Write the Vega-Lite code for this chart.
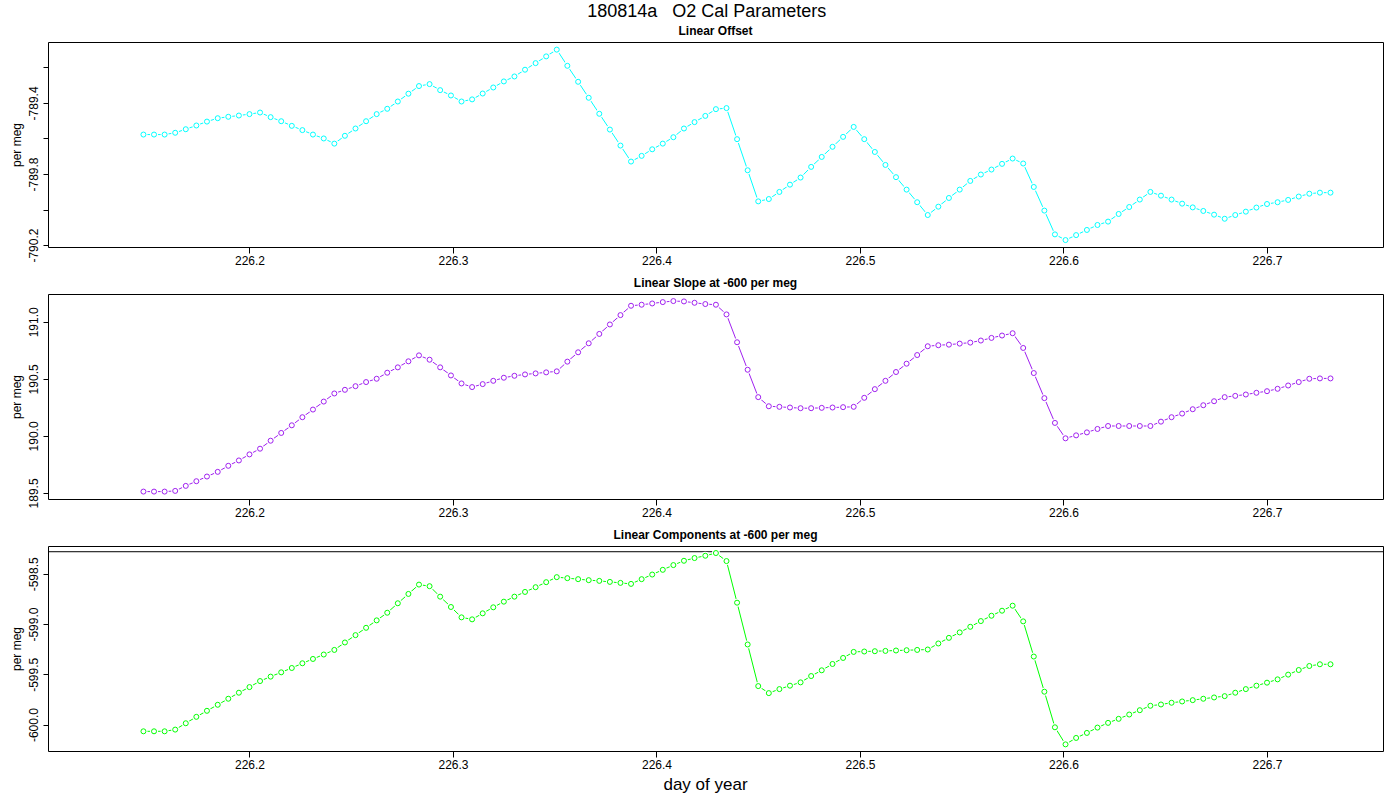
{
  "$schema": "https://vega.github.io/schema/vega-lite/v6.json",
  "background": "white",
  "padding": {"left": 9, "top": 2, "right": 18, "bottom": 5},
  "title": {
    "text": "180814a\u00a0\u00a0\u00a0O2 Cal Parameters",
    "fontSize": 18,
    "fontWeight": "normal",
    "anchor": "middle",
    "offset": 4,
    "dx": 10
  },
  "data": {
    "values": [
      {"x": 226.1479, "offset": -789.578, "slope": 189.512, "comp": -600.067},
      {"x": 226.1531, "offset": -789.578, "slope": 189.512, "comp": -600.067},
      {"x": 226.1583, "offset": -789.578, "slope": 189.512, "comp": -600.067},
      {"x": 226.1635, "offset": -789.568, "slope": 189.518, "comp": -600.050},
      {"x": 226.1687, "offset": -789.548, "slope": 189.562, "comp": -599.987},
      {"x": 226.1739, "offset": -789.527, "slope": 189.603, "comp": -599.923},
      {"x": 226.1791, "offset": -789.505, "slope": 189.644, "comp": -599.863},
      {"x": 226.1844, "offset": -789.486, "slope": 189.685, "comp": -599.803},
      {"x": 226.1896, "offset": -789.478, "slope": 189.738, "comp": -599.743},
      {"x": 226.1948, "offset": -789.471, "slope": 189.785, "comp": -599.683},
      {"x": 226.2000, "offset": -789.463, "slope": 189.838, "comp": -599.627},
      {"x": 226.2052, "offset": -789.454, "slope": 189.888, "comp": -599.567},
      {"x": 226.2104, "offset": -789.480, "slope": 189.958, "comp": -599.523},
      {"x": 226.2156, "offset": -789.503, "slope": 190.026, "comp": -599.480},
      {"x": 226.2208, "offset": -789.529, "slope": 190.093, "comp": -599.437},
      {"x": 226.2260, "offset": -789.553, "slope": 190.164, "comp": -599.390},
      {"x": 226.2312, "offset": -789.578, "slope": 190.231, "comp": -599.347},
      {"x": 226.2365, "offset": -789.600, "slope": 190.301, "comp": -599.303},
      {"x": 226.2417, "offset": -789.629, "slope": 190.372, "comp": -599.257},
      {"x": 226.2469, "offset": -789.585, "slope": 190.404, "comp": -599.183},
      {"x": 226.2521, "offset": -789.544, "slope": 190.436, "comp": -599.110},
      {"x": 226.2573, "offset": -789.503, "slope": 190.472, "comp": -599.037},
      {"x": 226.2625, "offset": -789.463, "slope": 190.501, "comp": -598.963},
      {"x": 226.2677, "offset": -789.433, "slope": 190.554, "comp": -598.887},
      {"x": 226.2729, "offset": -789.392, "slope": 190.601, "comp": -598.793},
      {"x": 226.2781, "offset": -789.348, "slope": 190.654, "comp": -598.700},
      {"x": 226.2833, "offset": -789.305, "slope": 190.706, "comp": -598.607},
      {"x": 226.2885, "offset": -789.294, "slope": 190.668, "comp": -598.623},
      {"x": 226.2937, "offset": -789.328, "slope": 190.601, "comp": -598.727},
      {"x": 226.2990, "offset": -789.358, "slope": 190.530, "comp": -598.830},
      {"x": 226.3042, "offset": -789.392, "slope": 190.460, "comp": -598.933},
      {"x": 226.3094, "offset": -789.380, "slope": 190.428, "comp": -598.953},
      {"x": 226.3146, "offset": -789.347, "slope": 190.454, "comp": -598.893},
      {"x": 226.3198, "offset": -789.313, "slope": 190.483, "comp": -598.833},
      {"x": 226.3250, "offset": -789.279, "slope": 190.510, "comp": -598.777},
      {"x": 226.3302, "offset": -789.251, "slope": 190.527, "comp": -598.727},
      {"x": 226.3354, "offset": -789.213, "slope": 190.539, "comp": -598.680},
      {"x": 226.3406, "offset": -789.176, "slope": 190.548, "comp": -598.633},
      {"x": 226.3458, "offset": -789.138, "slope": 190.557, "comp": -598.583},
      {"x": 226.3510, "offset": -789.100, "slope": 190.566, "comp": -598.533},
      {"x": 226.3562, "offset": -789.191, "slope": 190.651, "comp": -598.543},
      {"x": 226.3615, "offset": -789.281, "slope": 190.733, "comp": -598.553},
      {"x": 226.3667, "offset": -789.371, "slope": 190.812, "comp": -598.563},
      {"x": 226.3719, "offset": -789.461, "slope": 190.894, "comp": -598.570},
      {"x": 226.3771, "offset": -789.550, "slope": 190.977, "comp": -598.580},
      {"x": 226.3823, "offset": -789.640, "slope": 191.059, "comp": -598.590},
      {"x": 226.3875, "offset": -789.730, "slope": 191.141, "comp": -598.600},
      {"x": 226.3927, "offset": -789.698, "slope": 191.150, "comp": -598.553},
      {"x": 226.3979, "offset": -789.661, "slope": 191.161, "comp": -598.507},
      {"x": 226.4031, "offset": -789.629, "slope": 191.173, "comp": -598.460},
      {"x": 226.4083, "offset": -789.593, "slope": 191.182, "comp": -598.413},
      {"x": 226.4135, "offset": -789.544, "slope": 191.179, "comp": -598.370},
      {"x": 226.4187, "offset": -789.508, "slope": 191.167, "comp": -598.343},
      {"x": 226.4240, "offset": -789.473, "slope": 191.156, "comp": -598.320},
      {"x": 226.4292, "offset": -789.435, "slope": 191.150, "comp": -598.293},
      {"x": 226.4344, "offset": -789.429, "slope": 191.065, "comp": -598.373},
      {"x": 226.4396, "offset": -789.604, "slope": 190.821, "comp": -598.787},
      {"x": 226.4448, "offset": -789.779, "slope": 190.580, "comp": -599.203},
      {"x": 226.4500, "offset": -789.954, "slope": 190.340, "comp": -599.617},
      {"x": 226.4552, "offset": -789.941, "slope": 190.260, "comp": -599.687},
      {"x": 226.4604, "offset": -789.901, "slope": 190.255, "comp": -599.647},
      {"x": 226.4656, "offset": -789.860, "slope": 190.249, "comp": -599.613},
      {"x": 226.4708, "offset": -789.820, "slope": 190.243, "comp": -599.580},
      {"x": 226.4760, "offset": -789.760, "slope": 190.243, "comp": -599.517},
      {"x": 226.4812, "offset": -789.704, "slope": 190.246, "comp": -599.460},
      {"x": 226.4865, "offset": -789.647, "slope": 190.249, "comp": -599.397},
      {"x": 226.4917, "offset": -789.591, "slope": 190.252, "comp": -599.337},
      {"x": 226.4969, "offset": -789.535, "slope": 190.255, "comp": -599.277},
      {"x": 226.5021, "offset": -789.604, "slope": 190.334, "comp": -599.273},
      {"x": 226.5073, "offset": -789.676, "slope": 190.410, "comp": -599.270},
      {"x": 226.5125, "offset": -789.749, "slope": 190.483, "comp": -599.267},
      {"x": 226.5177, "offset": -789.818, "slope": 190.560, "comp": -599.263},
      {"x": 226.5229, "offset": -789.888, "slope": 190.633, "comp": -599.260},
      {"x": 226.5281, "offset": -789.959, "slope": 190.709, "comp": -599.257},
      {"x": 226.5333, "offset": -790.031, "slope": 190.786, "comp": -599.253},
      {"x": 226.5385, "offset": -789.984, "slope": 190.795, "comp": -599.193},
      {"x": 226.5437, "offset": -789.935, "slope": 190.800, "comp": -599.137},
      {"x": 226.5490, "offset": -789.888, "slope": 190.809, "comp": -599.083},
      {"x": 226.5542, "offset": -789.839, "slope": 190.818, "comp": -599.027},
      {"x": 226.5594, "offset": -789.803, "slope": 190.836, "comp": -598.970},
      {"x": 226.5646, "offset": -789.775, "slope": 190.859, "comp": -598.917},
      {"x": 226.5698, "offset": -789.743, "slope": 190.880, "comp": -598.867},
      {"x": 226.5750, "offset": -789.713, "slope": 190.900, "comp": -598.817},
      {"x": 226.5802, "offset": -789.741, "slope": 190.771, "comp": -598.973},
      {"x": 226.5854, "offset": -789.873, "slope": 190.551, "comp": -599.323},
      {"x": 226.5906, "offset": -790.006, "slope": 190.331, "comp": -599.673},
      {"x": 226.5958, "offset": -790.140, "slope": 190.114, "comp": -600.027},
      {"x": 226.6010, "offset": -790.172, "slope": 189.979, "comp": -600.197},
      {"x": 226.6062, "offset": -790.144, "slope": 190.005, "comp": -600.133},
      {"x": 226.6115, "offset": -790.115, "slope": 190.031, "comp": -600.083},
      {"x": 226.6167, "offset": -790.087, "slope": 190.061, "comp": -600.030},
      {"x": 226.6219, "offset": -790.068, "slope": 190.087, "comp": -599.983},
      {"x": 226.6271, "offset": -790.025, "slope": 190.087, "comp": -599.943},
      {"x": 226.6323, "offset": -789.986, "slope": 190.087, "comp": -599.900},
      {"x": 226.6375, "offset": -789.944, "slope": 190.087, "comp": -599.857},
      {"x": 226.6427, "offset": -789.901, "slope": 190.087, "comp": -599.813},
      {"x": 226.6479, "offset": -789.922, "slope": 190.125, "comp": -599.800},
      {"x": 226.6531, "offset": -789.944, "slope": 190.164, "comp": -599.783},
      {"x": 226.6583, "offset": -789.967, "slope": 190.196, "comp": -599.770},
      {"x": 226.6635, "offset": -789.988, "slope": 190.234, "comp": -599.757},
      {"x": 226.6687, "offset": -790.008, "slope": 190.269, "comp": -599.743},
      {"x": 226.6740, "offset": -790.029, "slope": 190.304, "comp": -599.730},
      {"x": 226.6792, "offset": -790.052, "slope": 190.340, "comp": -599.717},
      {"x": 226.6844, "offset": -790.031, "slope": 190.351, "comp": -599.683},
      {"x": 226.6896, "offset": -790.012, "slope": 190.363, "comp": -599.647},
      {"x": 226.6948, "offset": -789.989, "slope": 190.378, "comp": -599.613},
      {"x": 226.7000, "offset": -789.969, "slope": 190.392, "comp": -599.583},
      {"x": 226.7052, "offset": -789.959, "slope": 190.413, "comp": -599.550},
      {"x": 226.7104, "offset": -789.946, "slope": 190.442, "comp": -599.503},
      {"x": 226.7156, "offset": -789.927, "slope": 190.472, "comp": -599.457},
      {"x": 226.7208, "offset": -789.911, "slope": 190.501, "comp": -599.417},
      {"x": 226.7260, "offset": -789.905, "slope": 190.504, "comp": -599.400},
      {"x": 226.7312, "offset": -789.905, "slope": 190.504, "comp": -599.400}
    ]
  },
  "spacing": 47,
  "bounds": "flush",
  "vconcat": [
    {
      "title": "Linear Offset",
      "width": 1335,
      "height": 205,
      "encoding": {
        "x": {
          "field": "x",
          "type": "quantitative",
          "scale": {"domain": [226.101, 226.757], "nice": false, "zero": false},
          "axis": {"values": [226.2, 226.3, 226.4, 226.5, 226.6, 226.7], "format": ".1f", "title": null}
        },
        "y": {
          "field": "offset",
          "type": "quantitative",
          "scale": {"domain": [-790.211, -789.057], "nice": false, "zero": false},
          "axis": {
            "values": [-790.2, -790.0, -789.8, -789.6, -789.4, -789.2],
            "labelExpr": "(datum.value < -789.3 && datum.value > -789.5) || (datum.value < -789.7 && datum.value > -789.9) || datum.value < -790.1 ? replace(format(datum.value, '.1f'), '\u2212', '-') : ''",
            "title": "per meg"
          }
        }
      },
      "layer": [
        {"mark": {"type": "line", "color": "#00FFFF", "strokeWidth": 1}},
        {"mark": {"type": "point", "filled": true, "color": "white", "opacity": 1, "size": 64}},
        {"mark": {"type": "point", "filled": false, "color": "#00FFFF", "opacity": 1, "size": 25, "strokeWidth": 1}}
      ]
    },
    {
      "title": "Linear Slope at -600 per meg",
      "width": 1335,
      "height": 205,
      "encoding": {
        "x": {
          "field": "x",
          "type": "quantitative",
          "scale": {"domain": [226.101, 226.757], "nice": false, "zero": false},
          "axis": {"values": [226.2, 226.3, 226.4, 226.5, 226.6, 226.7], "format": ".1f", "title": null}
        },
        "y": {
          "field": "slope",
          "type": "quantitative",
          "scale": {"domain": [189.447, 191.244], "nice": false, "zero": false},
          "axis": {"values": [189.5, 190.0, 190.5, 191.0], "format": ".1f", "title": "per meg"}
        }
      },
      "layer": [
        {"mark": {"type": "line", "color": "#A020F0", "strokeWidth": 1}},
        {"mark": {"type": "point", "filled": true, "color": "white", "opacity": 1, "size": 64}},
        {"mark": {"type": "point", "filled": false, "color": "#A020F0", "opacity": 1, "size": 25, "strokeWidth": 1}}
      ]
    },
    {
      "title": "Linear Components at -600 per meg",
      "width": 1335,
      "height": 205,
      "layer": [
        {
          "data": {"values": [{"level": -598.28}]},
          "mark": {"type": "rule", "color": "black", "strokeWidth": 1},
          "encoding": {"y": {"field": "level", "type": "quantitative"}}
        },
        {
          "mark": {"type": "line", "color": "#00FF00", "strokeWidth": 1},
          "encoding": {
            "x": {"field": "x", "type": "quantitative"},
            "y": {"field": "comp", "type": "quantitative"}
          }
        },
        {
          "mark": {"type": "point", "filled": true, "color": "white", "opacity": 1, "size": 64},
          "encoding": {
            "x": {"field": "x", "type": "quantitative"},
            "y": {"field": "comp", "type": "quantitative"}
          }
        },
        {
          "mark": {"type": "point", "filled": false, "color": "#00FF00", "opacity": 1, "size": 25, "strokeWidth": 1},
          "encoding": {
            "x": {
              "field": "x",
              "type": "quantitative",
              "scale": {"domain": [226.101, 226.757], "nice": false, "zero": false},
              "axis": {
                "values": [226.2, 226.3, 226.4, 226.5, 226.6, 226.7],
                "format": ".1f",
                "title": "day of year",
                "titleFontSize": 17,
                "titlePadding": 6,
                "titleX": 657
              }
            },
            "y": {
              "field": "comp",
              "type": "quantitative",
              "scale": {"domain": [-600.263, -598.223], "nice": false, "zero": false},
              "axis": {
                "values": [-600.0, -599.5, -599.0, -598.5],
                "labelExpr": "replace(format(datum.value, '.1f'), '\u2212', '-')",
                "title": "per meg"
              }
            }
          }
        }
      ]
    }
  ],
  "config": {
    "font": "Liberation Sans",
    "view": {"stroke": "black", "strokeWidth": 1},
    "title": {"fontSize": 12, "fontWeight": "bold", "color": "black", "offset": 4, "anchor": "middle"},
    "axis": {
      "grid": false,
      "domain": false,
      "tickColor": "black",
      "labelColor": "black",
      "labelFontSize": 12,
      "labelFlush": false,
      "labelOverlap": false,
      "titleColor": "black",
      "titleFontSize": 12,
      "titleFontWeight": "normal"
    },
    "axisX": {"tickSize": 6, "labelPadding": 2},
    "axisY": {"tickSize": 5, "labelPadding": 3, "labelAngle": -90, "labelAlign": "center", "labelBaseline": "bottom", "titlePadding": 4}
  }
}
